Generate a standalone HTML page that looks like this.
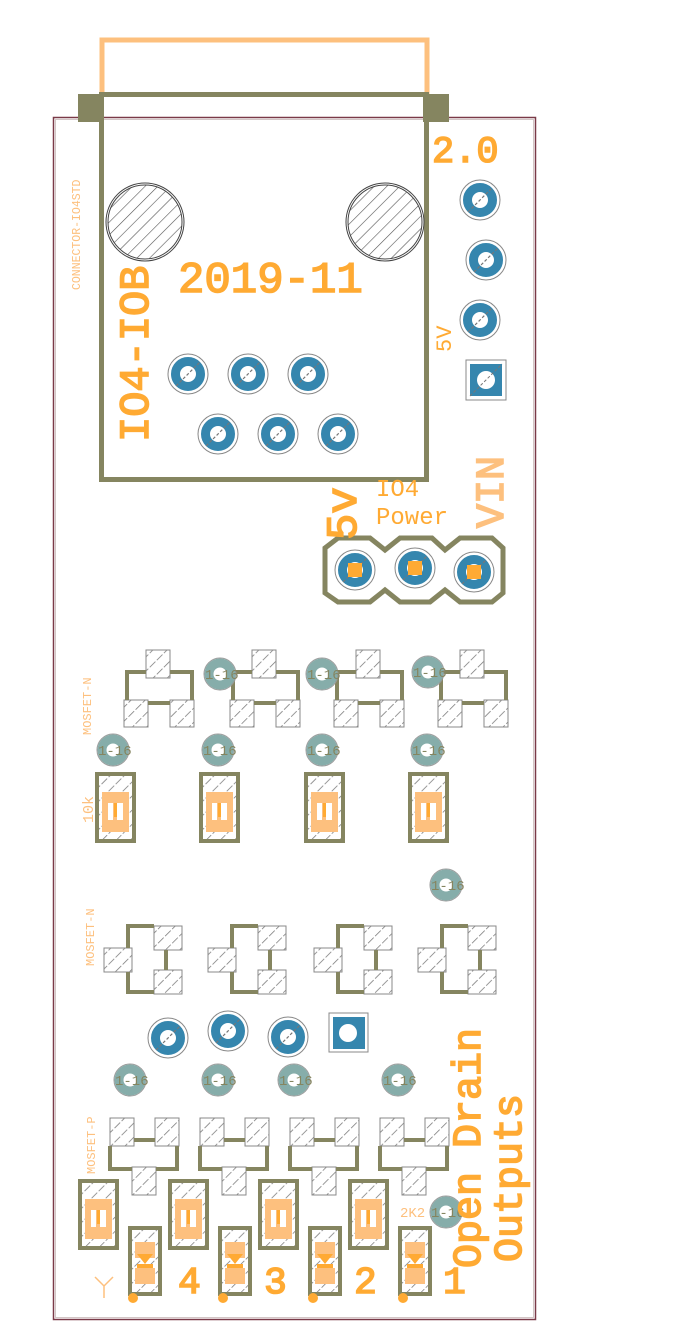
<!DOCTYPE html>
<html><head><meta charset="utf-8"><style>
html,body{margin:0;padding:0;background:#fff;}
svg{display:block;}
text{font-family:"Liberation Mono",monospace;}
.b{stroke:#ffaa33;stroke-width:1.6;}
.bl{stroke:#fdc07e;stroke-width:1.6;}
</style></head><body>
<svg width="700" height="1324" viewBox="0 0 700 1324" xmlns="http://www.w3.org/2000/svg">
<defs>
<pattern id="h" width="10" height="10" patternUnits="userSpaceOnUse" patternTransform="rotate(45)">
<rect width="10" height="10" fill="#fff"/><line x1="0" y1="0" x2="0" y2="10" stroke="#777" stroke-width="1.5" stroke-dasharray="4 2"/></pattern>
<pattern id="h2" width="9" height="9" patternUnits="userSpaceOnUse" patternTransform="rotate(45)">
<rect width="9" height="9" fill="#fff"/><line x1="0" y1="0" x2="0" y2="9" stroke="#555" stroke-width="1.2"/></pattern>
<g id="pin"><circle r="20" fill="none" stroke="#888" stroke-width="1"/><circle r="12.5" fill="none" stroke="#3586ae" stroke-width="9"/><line x1="-12" y1="12" x2="12" y2="-12" stroke="#777" stroke-width="1.2" stroke-dasharray="3 2"/></g>
<g id="via"><circle r="16" fill="none" stroke="#999" stroke-width="1"/><circle r="11" fill="none" stroke="#86adaa" stroke-width="9"/><text x="-15" y="5" font-size="14" fill="#858560" font-family="Liberation Mono">1-16</text></g>
<g id="mn1">
<rect x="22" y="0" width="24" height="28" fill="url(#h)" stroke="#888"/>
<rect x="0" y="50" width="24" height="27" fill="url(#h)" stroke="#888"/>
<rect x="46" y="50" width="24" height="27" fill="url(#h)" stroke="#888"/>
<path d="M22 22 H3 V50 M46 22 H68 V50 M24 53 H46" fill="none" stroke="#858560" stroke-width="4"/>
</g>
<g id="mn2">
<rect x="0" y="22" width="28" height="24" fill="url(#h)" stroke="#888"/>
<rect x="50" y="0" width="28" height="24" fill="url(#h)" stroke="#888"/>
<rect x="50" y="44" width="28" height="24" fill="url(#h)" stroke="#888"/>
<path d="M50 0 H24 V22 M24 46 V66 H50 M62 24 V44" fill="none" stroke="#858560" stroke-width="4"/>
</g>
<g id="mp">
<rect x="0" y="0" width="24" height="28" fill="url(#h)" stroke="#888"/>
<rect x="45" y="0" width="24" height="28" fill="url(#h)" stroke="#888"/>
<rect x="22" y="49" width="24" height="28" fill="url(#h)" stroke="#888"/>
<path d="M24 22 H45 M0 28 V51 H22 M67 28 V51 H46" fill="none" stroke="#858560" stroke-width="4"/>
</g>
<g id="res">
<rect x="0" y="0" width="37" height="67" fill="url(#h)" stroke="#858560" stroke-width="4"/>
<rect x="5" y="18" width="27" height="40" fill="#fdc07e"/>
<rect x="11" y="29" width="15" height="17" fill="#fff"/>
<rect x="16" y="29" width="4" height="17" fill="#fdc07e"/>
<rect x="17" y="29" width="3" height="14" fill="#ffaa33"/>
</g>
<g id="led">
<rect x="0" y="0" width="30" height="66" fill="url(#h)" stroke="#858560" stroke-width="4"/>
<path d="M5 14 H25 V30 H5 Z M5 40 H25 V56 H5 Z" fill="#fdc07e"/>
<path d="M7 26 H23 L15 36 Z" fill="#ffaa33"/>
<rect x="7" y="36" width="16" height="4" fill="#ffaa33"/>
</g>
</defs>

<rect x="53.5" y="117.5" width="482" height="1202" fill="none" stroke="#7a3a48" stroke-width="1.5"/>
<rect x="55.5" y="119.5" width="478" height="1198" fill="none" stroke="#c8b8b8" stroke-width="0.8"/>

<path d="M102 94 V40 H427 V94" fill="none" stroke="#fdc07e" stroke-width="5"/>
<rect x="101.5" y="94.5" width="325" height="385" fill="none" stroke="#858560" stroke-width="5"/>
<rect x="78" y="94" width="26" height="28" fill="#858560"/>
<rect x="423" y="94" width="26" height="28" fill="#858560"/>
<circle cx="145" cy="222" r="39" fill="none" stroke="#444" stroke-width="1"/>
<circle cx="145" cy="222" r="37" fill="url(#h2)" stroke="#444" stroke-width="1"/>
<circle cx="385" cy="222" r="39" fill="none" stroke="#444" stroke-width="1"/>
<circle cx="385" cy="222" r="37" fill="url(#h2)" stroke="#444" stroke-width="1"/>
<use href="#pin" x="188" y="374"/><use href="#pin" x="248" y="374"/><use href="#pin" x="308" y="374"/>
<use href="#pin" x="218" y="434"/><use href="#pin" x="278" y="434"/><use href="#pin" x="338" y="434"/>
<use href="#pin" x="480" y="200"/><use href="#pin" x="486" y="260"/><use href="#pin" x="480" y="320"/>
<rect x="466" y="360" width="40" height="40" fill="none" stroke="#888"/>
<rect x="470" y="364" width="32" height="32" fill="#3586ae"/>
<circle cx="486" cy="380" r="9" fill="#fff"/>
<line x1="470" y1="396" x2="502" y2="364" stroke="#777" stroke-dasharray="3 2"/>

<text x="432" y="162" font-size="37" fill="#ffaa33" class="b">2.0</text>
<text x="178" y="292" font-size="44" fill="#ffaa33" class="b">2019-11</text>
<text transform="translate(148,442) rotate(-90)" font-size="42" fill="#ffaa33" class="b">IO4-IOB</text>
<text transform="translate(80,290) rotate(-90)" font-size="11.5" fill="#fdc07e">CONNECTOR-IO4STD</text>
<text transform="translate(451,352) rotate(-90)" font-size="22" fill="#ffaa33">5V</text>

<path d="M325 548 L338 538 H370 L385 550 L400 538 H432 L445 550 L460 538 H492 L503 548 V593 L492 602 H460 L445 590 L430 602 H400 L385 590 L370 602 H338 L325 593 Z" fill="none" stroke="#858560" stroke-width="5"/>
<use href="#pin" x="355" y="570"/><use href="#pin" x="415" y="568"/><use href="#pin" x="474" y="572"/>
<rect x="348" y="563" width="14" height="14" fill="#ffaa33"/>
<rect x="408" y="561" width="14" height="14" fill="#ffaa33"/>
<rect x="467" y="565" width="14" height="14" fill="#ffaa33"/>
<text transform="translate(356,540) rotate(-90)" font-size="44" fill="#ffaa33" class="b">5v</text>
<text x="376" y="496" font-size="24" fill="#ffaa33">IO4</text>
<text x="376" y="524" font-size="24" fill="#ffaa33">Power</text>
<text transform="translate(503,528) rotate(-90)" font-size="40" fill="#fdc07e" class="bl">VIN</text>

<text transform="translate(91,735) rotate(-90)" font-size="12" fill="#fdc07e">MOSFET-N</text>
<use href="#mn1" x="124" y="650"/><use href="#mn1" x="230" y="650"/><use href="#mn1" x="334" y="650"/><use href="#mn1" x="438" y="650"/>
<use href="#via" x="220" y="674"/><use href="#via" x="322" y="674"/><use href="#via" x="428" y="672"/>
<use href="#via" x="113" y="750"/><use href="#via" x="218" y="750"/><use href="#via" x="322" y="750"/><use href="#via" x="427" y="750"/>
<text transform="translate(93,823) rotate(-90)" font-size="15" fill="#fdc07e">10k</text>
<use href="#res" x="97" y="774"/><use href="#res" x="201" y="774"/><use href="#res" x="306" y="774"/><use href="#res" x="410" y="774"/>

<use href="#via" x="446" y="885"/>
<text transform="translate(94,966) rotate(-90)" font-size="12" fill="#fdc07e">MOSFET-N</text>
<use href="#mn2" x="104" y="926"/><use href="#mn2" x="208" y="926"/><use href="#mn2" x="314" y="926"/><use href="#mn2" x="418" y="926"/>
<use href="#pin" x="168" y="1038"/><use href="#pin" x="228" y="1031"/><use href="#pin" x="288" y="1037"/>
<rect x="329" y="1013" width="39" height="39" fill="none" stroke="#888"/>
<rect x="333" y="1017" width="32" height="32" fill="#3586ae"/>
<circle cx="348" cy="1033" r="9" fill="#fff"/>
<use href="#via" x="130" y="1080"/><use href="#via" x="218" y="1080"/><use href="#via" x="294" y="1080"/><use href="#via" x="398" y="1080"/>

<text transform="translate(95,1174) rotate(-90)" font-size="12" fill="#fdc07e">MOSFET-P</text>
<use href="#mp" x="110" y="1118"/><use href="#mp" x="200" y="1118"/><use href="#mp" x="290" y="1118"/><use href="#mp" x="380" y="1118"/>
<use href="#res" x="80" y="1181"/><use href="#res" x="170" y="1181"/><use href="#res" x="260" y="1181"/><use href="#res" x="350" y="1181"/>
<use href="#led" x="130" y="1228"/><use href="#led" x="220" y="1228"/><use href="#led" x="310" y="1228"/><use href="#led" x="400" y="1228"/>
<circle cx="133" cy="1298" r="5" fill="#ffaa33"/><circle cx="223" cy="1298" r="5" fill="#ffaa33"/><circle cx="313" cy="1298" r="5" fill="#ffaa33"/><circle cx="403" cy="1298" r="5" fill="#ffaa33"/>
<path d="M95 1277 L104 1286 L113 1277 M104 1286 V1298" fill="none" stroke="#fdc07e" stroke-width="1.5"/>
<text x="178" y="1293" font-size="38" fill="#ffaa33" class="b">4</text>
<text x="264" y="1293" font-size="38" fill="#ffaa33" class="b">3</text>
<text x="354" y="1293" font-size="38" fill="#ffaa33" class="b">2</text>
<text x="443" y="1293" font-size="38" fill="#ffaa33" class="b">1</text>
<text x="400" y="1217" font-size="14" fill="#fdc07e">2K2</text>
<use href="#via" x="446" y="1212"/>
<text transform="translate(480,1268) rotate(-90)" font-size="40" fill="#ffaa33" class="b">Open Drain</text>
<text transform="translate(521,1262) rotate(-90)" font-size="40" fill="#ffaa33" class="b">Outputs</text>
</svg>
</body></html>
